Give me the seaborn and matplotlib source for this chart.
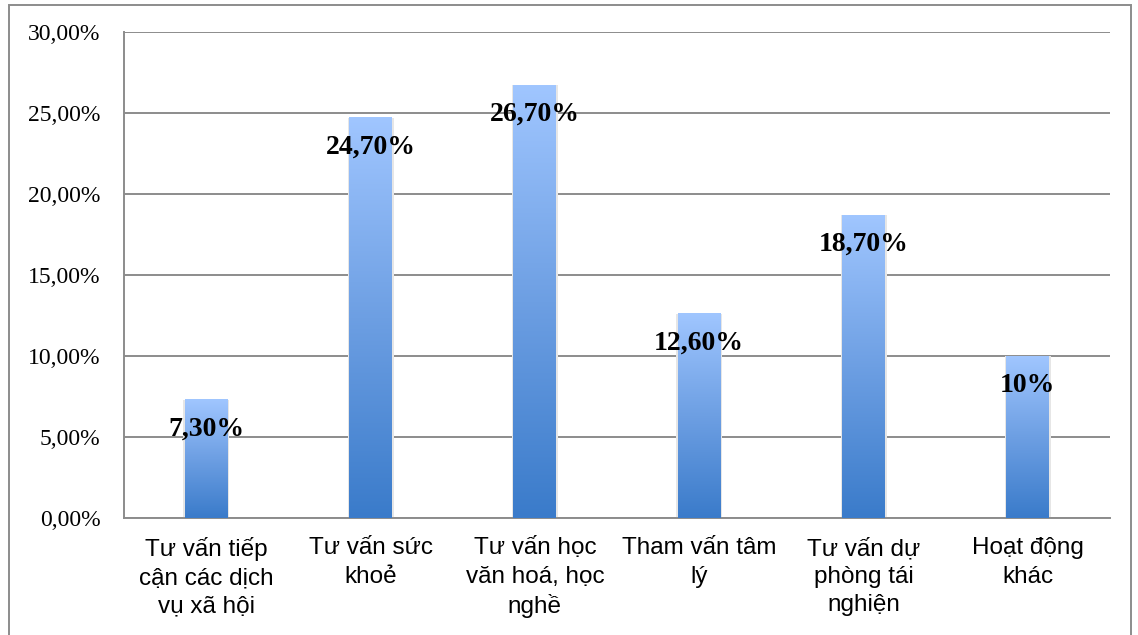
import numpy as np
import pandas as pd
import matplotlib
matplotlib.use("Agg")
import matplotlib.pyplot as plt
from matplotlib.colors import LinearSegmentedColormap
from matplotlib.patches import Rectangle
import seaborn as sns

categories = [
    "Tư vấn tiếp\ncận các dịch\nvụ xã hội",
    "Tư vấn sức\nkhoẻ",
    "Tư vấn học\nvăn hoá, học\nnghề",
    "Tham vấn tâm\nlý",
    "Tư vấn dự\nphòng tái\nnghiện",
    "Hoạt động\nkhác",
]
values = [7.3, 24.7, 26.7, 12.6, 18.7, 10.0]
value_labels = ["7,30%", "24,70%", "26,70%", "12,60%", "18,70%", "10%"]
y_ticks = [0, 5, 10, 15, 20, 25, 30]
y_tick_labels = ["0,00%", "5,00%", "10,00%", "15,00%", "20,00%", "25,00%", "30,00%"]

df = pd.DataFrame({"category": categories, "value": values})

sns.set_theme(style="white")
plt.rcParams["font.family"] = ["Liberation Sans", "DejaVu Sans"]

fig = plt.figure(figsize=(11.38, 6.35), dpi=100)
ax = fig.add_axes([0.109, 0.1843, 0.8664, 0.7653])

sns.barplot(data=df, x="category", y="value", width=0.26, color="#5b93dc",
            ax=ax, zorder=3)

ax.set_ylim(0, 30)
ax.set_xlim(-0.5, len(categories) - 0.5)

# vertical gradient fill for each bar (light top, deeper blue bottom)
cmap = LinearSegmentedColormap.from_list("bar_grad", ["#3a7bca", "#6d9fe3", "#a0c6ff"])
grad = np.linspace(0, 1, 256).reshape(-1, 1)
for patch in ax.patches:
    x0, y0 = patch.get_x(), patch.get_y()
    w, h = patch.get_width(), patch.get_height()
    patch.set_visible(False)
    # soft shadow
    ax.add_patch(Rectangle((x0 - 0.01, y0), w + 0.02, h, facecolor="#e6e6e6",
                           edgecolor="none", zorder=2.5))
    ax.imshow(grad, cmap=cmap, origin="lower", aspect="auto",
              extent=(x0, x0 + w, y0, y0 + h), zorder=3, interpolation="bilinear")

ax.set_xlim(-0.5, len(categories) - 0.5)
ax.set_ylim(0, 30)

# gridlines
ax.set_yticks(y_ticks)
ax.set_yticklabels(y_tick_labels, family=["Liberation Serif", "DejaVu Serif"],
                   fontsize=17, color="black")
ax.yaxis.grid(True, color="#8c8c8c", linewidth=1.4, zorder=1)
ax.set_axisbelow(True)
ax.tick_params(axis="y", length=0, pad=17)
ax.tick_params(axis="x", length=0, pad=14)
for lbl in ax.get_xticklabels():
    lbl.set_fontsize(17.5)
    lbl.set_color("black")
    lbl.set_linespacing(1.36)
    lbl.set_verticalalignment("top")

ax.set_xlabel("")
ax.set_ylabel("")
for side in ["top", "right"]:
    ax.spines[side].set_visible(False)
ax.spines["left"].set_color("#8c8c8c")
ax.spines["left"].set_linewidth(1.4)
ax.spines["bottom"].set_color("#8c8c8c")
ax.spines["bottom"].set_linewidth(1.4)

# value labels just inside the top of each bar
for i, (v, lab) in enumerate(zip(values, value_labels)):
    ax.annotate(lab, xy=(i, v), xytext=(0, -21), textcoords="offset points",
                ha="center", va="center", fontsize=20, fontweight="bold",
                family=["Liberation Serif", "DejaVu Serif"], color="black", zorder=5)

# outer chart frame
fig.add_artist(Rectangle((9 / 1138, -0.02), 1122 / 1138, 1 - 5 / 635 + 0.02,
                         transform=fig.transFigure, fill=False,
                         edgecolor="#8c8c8c", linewidth=1.4))

fig.savefig("out.png", dpi=100)
